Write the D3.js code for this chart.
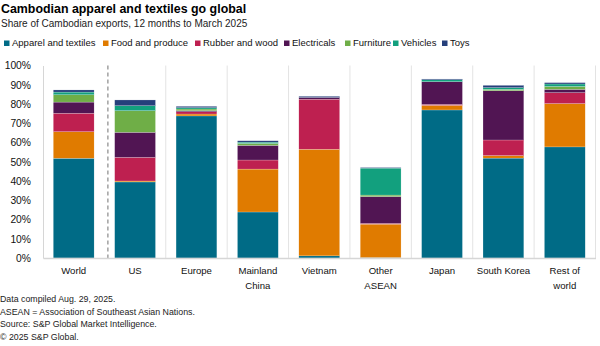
<!DOCTYPE html>
<html>

<head>
    <meta charset="utf-8">
    <script src="https://cdn.jsdelivr.net/npm/d3@7"></script>
    <style>
        body {
            margin: 0;
            background: #fff;
            font-family: "Liberation Sans", Arial, sans-serif;
        }
    </style>
</head>

<body>
    <script type="text/javascript">
        // share of exports by destination, percent
        var categories = ["World", "US", "Europe", "Mainland China", "Vietnam", "Other ASEAN", "Japan", "South Korea", "Rest of world"];
        var tickLabels = [["World"], ["US"], ["Europe"], ["Mainland", "China"], ["Vietnam"], ["Other", "ASEAN"], ["Japan"], ["South Korea"], ["Rest of", "world"]];

        var apparel = [51.8, 39.5, 73.8, 23.9, 1.1, 0.2, 76.9, 51.9, 57.7];
        var food = [13.8, 0.5, 1.0, 22.3, 55.4, 17.4, 2.4, 1.3, 22.5];
        var rubber = [9.6, 12.3, 1.2, 4.7, 26.0, 0.4, 0.5, 8.1, 5.7];
        var electricals = [5.8, 13.0, 0.5, 7.6, 0.9, 13.9, 11.8, 25.6, 1.7];
        var furniture = [3.8, 11.2, 0.9, 1.0, 0, 0.8, 0, 0.7, 1.5];
        var vehicles = [1.4, 2.6, 0.7, 0.7, 0, 14.0, 1.0, 0.9, 1.3];
        var toys = [1.1, 3.0, 0.7, 0.7, 0.6, 0.3, 0.4, 1.2, 0.7];

        var seriesNames = ["Apparel and textiles", "Food and produce", "Rubber and wood", "Electricals", "Furniture", "Vehicles", "Toys"];
        var seriesColors = ["#006b86", "#e07b00", "#be2050", "#511553", "#6fae47", "#12a07e", "#253f7b"];
        var yTicks = [0, 10, 20, 30, 40, 50, 60, 70, 80, 90, 100];

        var seriesValues = [apparel, food, rubber, electricals, furniture, vehicles, toys];
        var rows = categories.map(function(c, i) {
            var r = { cat: c };
            seriesNames.forEach(function(s, j) { r[s] = seriesValues[j][i]; });
            return r;
        });

        var width = 600, height = 346;
        var svg = d3.select("body").append("svg")
            .attr("width", width)
            .attr("height", height);

        // titles
        svg.append("text").attr("x", 1).attr("y", 12.5)
            .style("font-size", "12.4px").style("font-weight", "bold").attr("fill", "#000")
            .text("Cambodian apparel and textiles go global");
        svg.append("text").attr("x", 1).attr("y", 27)
            .style("font-size", "10px").attr("fill", "#222")
            .text("Share of Cambodian exports, 12 months to March 2025");

        // legend
        var legendX = [4, 103, 195, 284, 345, 393, 442];
        var lg = svg.selectAll(".legend").data(seriesNames).enter().append("g")
            .attr("transform", function(d, i) { return "translate(" + legendX[i] + ",40)"; });
        lg.append("rect").attr("width", 5.5).attr("height", 5.5).attr("y", 0.5)
            .attr("fill", function(d, i) { return seriesColors[i]; });
        lg.append("text").attr("x", 8).attr("y", 5.7)
            .style("font-size", "9.5px").attr("fill", "#111")
            .text(function(d) { return d; });

        var x = d3.scaleBand().domain(categories).range([43, 595.5]).paddingInner(0.335).paddingOuter(0.1675);
        var y = d3.scaleLinear().domain([0, 100]).range([258, 65.5]);

        // vertical separators between destinations
        var step = x.step();
        d3.range(2, categories.length + 1).forEach(function(i) {
            svg.append("line")
                .attr("x1", 43 + i * step).attr("x2", 43 + i * step)
                .attr("y1", y(100)).attr("y2", y(0))
                .attr("stroke", "#e3e3e3").attr("stroke-width", 1);
        });
        svg.append("line")
            .attr("x1", 43 + step + 3.5).attr("x2", 43 + step + 3.5)
            .attr("y1", y(100)).attr("y2", y(0))
            .attr("stroke", "#8a8a8a").attr("stroke-width", 1.2)
            .attr("stroke-dasharray", "4,3");

        // y axis
        var yAxis = d3.axisLeft(y).tickValues(yTicks).tickSize(0).tickPadding(12)
            .tickFormat(function(d) { return d + "%"; });
        var ya = svg.append("g").attr("transform", "translate(43,0)").call(yAxis);
        ya.select(".domain").attr("stroke", "#d6d6d6");
        ya.selectAll("text").style("font-size", "10.3px").style("font-family", "Liberation Sans, Arial, sans-serif").attr("fill", "#111");

        // stacked bars
        var stack = d3.stack().keys(seriesNames);
        var layers = stack(rows);
        svg.selectAll(".layer").data(layers).enter().append("g")
            .attr("fill", function(d, i) { return seriesColors[i]; })
            .selectAll("rect").data(function(d) { return d; }).enter().append("rect")
            .attr("x", function(d) { return x(d.data.cat); })
            .attr("width", x.bandwidth())
            .attr("y", function(d) { return y(d[1]); })
            .attr("height", function(d) { return Math.max(0, y(d[0]) - y(d[1])); })
            .attr("stroke", "#ffffff").attr("stroke-width", 0.3).attr("stroke-opacity", 0.7);

        // x axis
        var xa = svg.append("g").attr("transform", "translate(0,258)")
            .call(d3.axisBottom(x).tickSize(0).tickFormat(""));
        xa.select(".domain").attr("stroke", "#d6d6d6").attr("stroke-width", 1.5);
        categories.forEach(function(c, i) {
            var t = svg.append("text")
                .attr("x", x(c) + x.bandwidth() / 2)
                .attr("text-anchor", "middle")
                .style("font-size", "9.6px").attr("fill", "#111");
            tickLabels[i].forEach(function(line, k) {
                t.append("tspan").attr("x", x(c) + x.bandwidth() / 2).attr("y", 274 + k * 15).text(line);
            });
        });

        // footnotes
        var notes = ["Data compiled Aug. 29, 2025.", "ASEAN = Association of Southeast Asian Nations.", "Source: S&P Global Market Intelligence.", "\u00a9 2025 S&P Global."];
        svg.selectAll(".note").data(notes).enter().append("text")
            .attr("x", 0)
            .attr("y", function(d, i) { return 302 + i * 12.7; })
            .style("font-size", "8.8px").attr("fill", "#222")
            .text(function(d) { return d; });
    </script>
</body>

</html>
